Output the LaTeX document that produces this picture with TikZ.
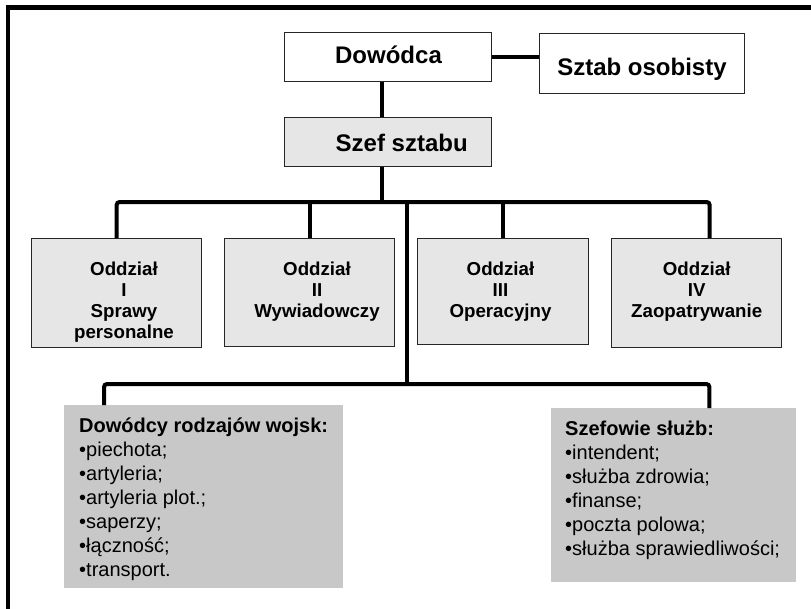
\documentclass[tikz,border=0pt]{standalone}
\usepackage{fontspec}
\setmainfont{Liberation Sans}
\definecolor{lightbox}{RGB}{230,230,230}
\definecolor{listbox}{RGB}{200,200,200}
\begin{document}
\begin{tikzpicture}[x=1pt,y=-1pt,
  box/.style={draw=black!85, line width=1.3pt, fill=#1, inner sep=0pt,
    anchor=north west, minimum width=\boxw, minimum height=\boxh},
  panel/.style={fill=listbox, inner sep=0pt, anchor=north west},
  link/.style={line width=4pt, black},
  title/.style={font=\bfseries\fontsize{24}{28}\selectfont, inner sep=0pt, anchor=base},
  dept/.style={font=\bfseries\fontsize{18.7}{21}\selectfont, align=center, inner sep=0pt, anchor=north},
  list/.style={font=\fontsize{20}{24}\selectfont, align=left, inner sep=0pt, anchor=north west}
]
\useasboundingbox (0,0) rectangle (811,608);
\newlength{\boxw}\newlength{\boxh}

% outer frame (left and top edges)
\draw[line width=4.5pt, line join=miter] (8,640) -- (8,7.5) -- (840,7.5);

% command level
\setlength{\boxw}{207pt}\setlength{\boxh}{49pt}
\node[box=white] (dow) at (284,32) {};
\node[box=lightbox] (szef) at (284,117) {};
\setlength{\boxw}{205pt}\setlength{\boxh}{60pt}
\node[box=white] (szt) at (539,33) {};

\node[title] (dowT) at (388.5,63) {Dowódca};
\node[title] (sztT) at (642,75) {Sztab osobisty};
\node[title] (szefT) at (401.7,151.7) {Szef sztabu};

% departments
\setlength{\boxw}{170pt}\setlength{\boxh}{109pt}
\node[box=lightbox] (o1) at (31,238) {};
\node[box=lightbox] (o4) at (611,238) {};
\setlength{\boxh}{108pt}
\node[box=lightbox] (o2) at (224,238) {};
\setlength{\boxw}{171pt}\setlength{\boxh}{106pt}
\node[box=lightbox] (o3) at (417,238) {};

\node[dept] (o1T) at (124,262) {Oddział\\I\\Sprawy\\personalne};
\node[dept] (o2T) at (317,262) {Oddział\\II\\Wywiadowczy};
\node[dept] (o3T) at (500.5,262) {Oddział\\III\\Operacyjny};
\node[dept] (o4T) at (696.7,262) {Oddział\\IV\\Zaopatrywanie};

% lists of subordinate chiefs
\node[panel, minimum width=279pt, minimum height=183pt] (dr) at (64,405) {};
\node[panel, minimum width=245pt, minimum height=174pt] (sz) at (551,408) {};

\node[list] (drT) at (79,417.4) {\textbf{Dowódcy rodzajów wojsk:}\\•piechota;\\•artyleria;\\•artyleria plot.;\\•saperzy;\\•łączność;\\•transport.};
\node[list] (szT) at (565,420.4) {\textbf{Szefowie służb:}\\•intendent;\\•służba zdrowia;\\•finanse;\\•poczta polowa;\\•służba sprawiedliwości;};

% connectors
\coordinate (bus) at (382,202);
\coordinate (trunk) at (407,202);
\coordinate (lbus) at (407,384);
\coordinate (o4drop) at ([xshift=13pt]o4.north);
\coordinate (drdrop) at ([xshift=40pt]dr.north west);
\coordinate (szdrop) at ([xshift=-87pt]sz.north east);

\draw[link] (dow.east) -- (dow.east -| szt.west);
\draw[link] (dow.south -| bus) -- (szef.north -| bus);
\draw[link] (szef.south -| bus) -- (bus);
\draw[link, rounded corners=3pt] (o1.north) |- (o4drop |- bus) -- (o4drop);
\draw[link] (o2.north) -- (o2.north |- bus);
\draw[link] (o3.north) -- (o3.north |- bus);
\draw[link] (trunk) -- (lbus);
\draw[link, rounded corners=3pt] (drdrop) |- (szdrop |- lbus) -- (szdrop);
\end{tikzpicture}
\end{document}
